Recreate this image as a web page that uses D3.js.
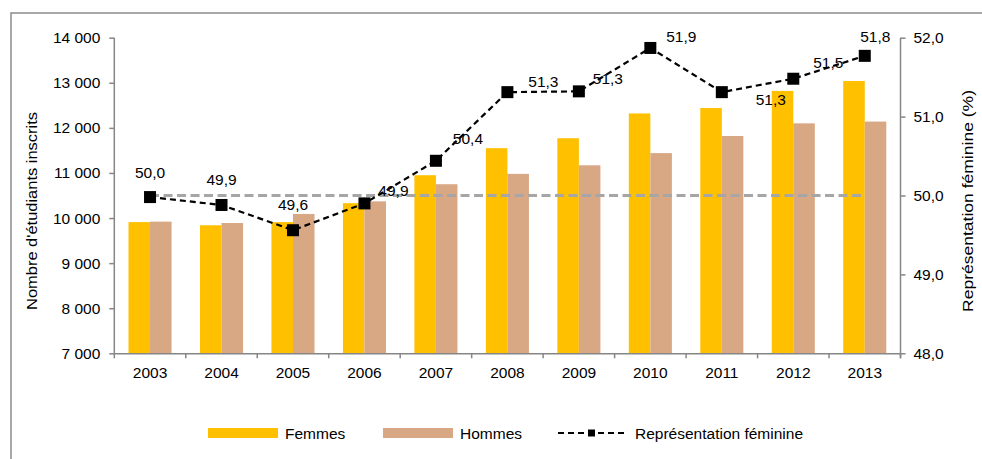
<!DOCTYPE html>
<html><head><meta charset="utf-8">
<script src="https://cdn.jsdelivr.net/npm/d3@7"></script>
<style>
body{margin:0;background:#fff;}
text{font-family:"Liberation Sans",Arial,sans-serif;fill:#000;}
</style></head>
<body><svg id="c" width="982" height="459"></svg>
<script>
const years = ["2003","2004","2005","2006","2007","2008","2009","2010","2011","2012","2013"];
const femmes = [9910, 9840, 9910, 10330, 10950, 11550, 11770, 12320, 12440, 12820, 13040];
const hommes = [9920, 9890, 10090, 10370, 10750, 10980, 11170, 11440, 11820, 12100, 12140];
const representation = [49.98, 49.88, 49.56, 49.90, 50.44, 51.31, 51.32, 51.87, 51.31, 51.48, 51.77];
const parite = [50, 50, 50, 50, 50, 50, 50, 50, 50, 50, 50];
const leftTicks = [7000, 8000, 9000, 10000, 11000, 12000, 13000, 14000];
const rightTicks = [48, 49, 50, 51, 52];
// label placement (offset from marker) in px
const labelOffsets = [[0,-25],[0,-25],[0,-26],[29,-13],[32,-22],[36,-11],[29,-13],[31,-11],[49,7],[35,-16.5],[10.5,-19]];

const svg = d3.select("#c");
const L = 114.3, R = 900.5, T = 37.7, B = 353.3;
const axisColor = "#868686";

svg.append("rect").attr("x",11).attr("y",13).attr("width",1100).attr("height",600)
  .attr("fill","none").attr("stroke","#8c8c8c").attr("stroke-width",1.5);

const x0 = d3.scaleBand().domain(years).range([L,R]).padding(0);
const x1 = d3.scaleBand().domain(["F","H"]).range([0,x0.bandwidth()]).paddingInner(0).paddingOuter(0.66);
const yL = d3.scaleLinear().domain([7000,14000]).range([B,T]);
const yR = d3.scaleLinear().domain([48,52]).range([B,T]);

const fr = d3.format(",");
const fmtL = v => fr(v).replace(/,/g," ");
const fmtR = v => v.toFixed(1).replace(".",",");

// bars
const g = svg.append("g");
years.forEach((yr,i)=>{
  g.append("rect").attr("x",x0(yr)+x1("F")).attr("width",x1.bandwidth())
   .attr("y",yL(femmes[i])).attr("height",B-yL(femmes[i])).attr("fill","#FFC000");
  g.append("rect").attr("x",x0(yr)+x1("H")).attr("width",x1.bandwidth())
   .attr("y",yL(hommes[i])).attr("height",B-yL(hommes[i])).attr("fill","#D8A784");
});

// axes
const axL = svg.append("g").attr("transform",`translate(${L},0)`)
  .call(d3.axisLeft(yL).tickValues(leftTicks).tickFormat(fmtL).tickSize(5).tickSizeOuter(0).tickPadding(9));
const axR = svg.append("g").attr("transform",`translate(${R},0)`)
  .call(d3.axisRight(yR).tickValues(rightTicks).tickFormat(fmtR).tickSize(5).tickSizeOuter(0).tickPadding(8));
const axB = svg.append("g").attr("transform",`translate(0,${B})`)
  .call(d3.axisBottom(x0).tickSize(0).tickPadding(14));
// bottom boundary ticks
const bounds = years.map(y=>x0(y)).concat([R]);
axB.selectAll(".bt").data(bounds).enter().append("line").attr("class","bt")
  .attr("x1",d=>d).attr("x2",d=>d).attr("y1",0).attr("y2",5).attr("stroke",axisColor).attr("stroke-width",1.5);
[axL,axR,axB].forEach(a=>{
  a.selectAll(".domain").attr("stroke",axisColor).attr("stroke-width",1.5);
  a.selectAll(".tick line").attr("stroke",axisColor).attr("stroke-width",1.5);
  a.selectAll("text").style("font-size","15.5px").attr("fill","#000");
});
axL.select(".domain").attr("d",`M0,${T}V${B}`);
axR.select(".domain").attr("d",`M0,${T}V${B+5}`);

// parity line
const xc = yr => x0(yr)+x0.bandwidth()/2;
svg.append("path").datum(parite)
  .attr("d", d3.line().x((d,i)=>xc(years[i])).y(d=>yR(d)))
  .attr("fill","none").attr("stroke","#A6A6A6").attr("stroke-width",3.2).attr("stroke-dasharray","9,4.5");

// representation line
svg.append("path").datum(representation)
  .attr("d", d3.line().x((d,i)=>xc(years[i])).y(d=>yR(d)))
  .attr("fill","none").attr("stroke","#000").attr("stroke-width",2.2).attr("stroke-dasharray","6,4");
const ms = 12;
svg.selectAll(".mk").data(representation).enter().append("rect").attr("class","mk")
  .attr("x",(d,i)=>xc(years[i])-ms/2).attr("y",d=>yR(d)-ms/2).attr("width",ms).attr("height",ms).attr("fill","#000");
svg.selectAll(".lb").data(representation).enter().append("text").attr("class","lb")
  .attr("x",(d,i)=>xc(years[i])+labelOffsets[i][0]).attr("y",(d,i)=>yR(d)+labelOffsets[i][1])
  .attr("dy","0.35em").attr("text-anchor","middle").style("font-size","15.5px")
  .text(d=>fmtR(Math.round(d*10)/10));

// axis titles
svg.append("text").attr("transform","translate(37,211) rotate(-90)").attr("text-anchor","middle")
  .style("font-size","15.5px").attr("textLength",198).attr("lengthAdjust","spacingAndGlyphs")
  .text("Nombre d'étudiants inscrits");
svg.append("text").attr("transform","translate(973,201) rotate(-90)").attr("text-anchor","middle")
  .style("font-size","15.5px").attr("textLength",222).attr("lengthAdjust","spacingAndGlyphs")
  .text("Représentation féminine (%)");

// legend
const lg = svg.append("g");
lg.append("rect").attr("x",208).attr("y",428).attr("width",70).attr("height",10).attr("fill","#FFC000");
lg.append("text").attr("x",285).attr("y",439).style("font-size","15.5px").text("Femmes");
lg.append("rect").attr("x",383).attr("y",428).attr("width",70).attr("height",10).attr("fill","#D8A784");
lg.append("text").attr("x",460).attr("y",439).style("font-size","15.5px").text("Hommes");
lg.append("line").attr("x1",558).attr("x2",627).attr("y1",433).attr("y2",433)
  .attr("stroke","#000").attr("stroke-width",2.2).attr("stroke-dasharray","6,4");
lg.append("rect").attr("x",588).attr("y",429.5).attr("width",7).attr("height",7).attr("fill","#000");
lg.append("text").attr("x",635).attr("y",439).style("font-size","15.5px").text("Représentation féminine");
</script></body></html>
